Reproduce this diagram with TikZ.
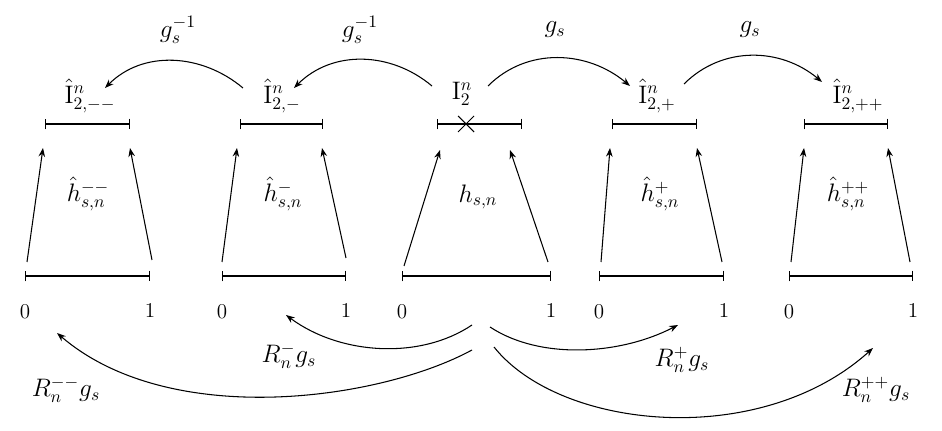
\documentclass[tikz,border=0pt]{standalone}
\usepackage{tikz}
\usetikzlibrary{arrows.meta, positioning, calc}

\begin{document}
\begin{tikzpicture}[x=0.02cm, y=-0.02cm,
        lbl/.style={inner sep=0pt, font=\Large},
        num/.style={inner sep=0pt, font=\large},
        seg/.style={line width=0.6pt, {Bar[width=6pt]}-{Bar[width=6pt]}},
        arr/.style={-{Stealth[length=5pt]}, line width=0.6pt}
    ]
        \useasboundingbox (0,0) rectangle (942,431);
        % top labels
        \node[lbl] (imm) at (90,96) {$\hat{\mathrm{I}}^n_{2,--}$};
        \node[lbl] (im) at (282,96) {$\hat{\mathrm{I}}^n_{2,-}$};
        \node[lbl] (i) at (462,94) {$\mathrm{I}^n_{2}$};
        \node[lbl] (ip) at (657,96) {$\hat{\mathrm{I}}^n_{2,+}$};
        \node[lbl] (ipp) at (858,96) {$\hat{\mathrm{I}}^n_{2,++}$};
        % top arcs
        \draw[arr] (243,88) coordinate (a1) to[out=140, in=45] (105,88) coordinate (b1);
        \draw[arr] (432,86) coordinate (a2) to[out=140, in=45] (294,88) coordinate (b2);
        \draw[arr] (488,86) coordinate (a3) to[out=45, in=140] (630,86) coordinate (b3);
        \draw[arr] (684,84) coordinate (a4) to[out=45, in=140] (822,82) coordinate (b4);
        \node[lbl] (g1) at (178,30) {$g_s^{-1}$};
        \node[lbl] (g2) at (360,30) {$g_s^{-1}$};
        \node[lbl] (g3) at (555,30) {$g_s$};
        \node[lbl] (g4) at (750,30) {$g_s$};
        % small intervals
        \foreach \n/\l/\r in {1/45/130, 2/240/323, 3/437/522, 4/612/697, 5/804/888} {
            \coordinate (tl\n) at (\l,124);
            \coordinate (tr\n) at (\r,124);
            \draw[seg] (tl\n) -- (tr\n);
        }
        \draw[line width=0.6pt] (458,116) -- (474,132) (458,132) -- (474,116);
        % unit intervals
        \foreach \n/\l/\r in {1/25/150, 2/222/346, 3/402/551, 4/599/724, 5/789/913} {
            \coordinate (bl\n) at (\l,276);
            \coordinate (br\n) at (\r,276);
            \draw[seg] (bl\n) -- (br\n);
            \node[num] (z\n) at (\l,312) {0};
            \node[num] (o\n) at (\r,310) {1};
        }
        % upward arrows
        \draw[arr] (27,262) -- (43,148);
        \draw[arr] (152,260) -- (130,148);
        \draw[arr] (222,262) -- (237,148);
        \draw[arr] (346,258) -- (322,148);
        \draw[arr] (404,266) -- (440,150);
        \draw[arr] (548,262) -- (510,150);
        \draw[arr] (601,262) -- (610,148);
        \draw[arr] (722,262) -- (697,148);
        \draw[arr] (791,262) -- (804,148);
        \draw[arr] (910,262) -- (888,148);
        % maps
        \node[lbl] (h1) at (88,194) {$\hat{h}^{--}_{s,n}$};
        \node[lbl] (h2) at (283,194) {$\hat{h}^{-}_{s,n}$};
        \node[lbl] (h3) at (478,197) {$h_{s,n}$};
        \node[lbl] (h4) at (660,194) {$\hat{h}^{+}_{s,n}$};
        \node[lbl] (h5) at (848,194) {$\hat{h}^{++}_{s,n}$};
        % bottom arcs
        \coordinate (s1) at (472,325);
        \coordinate (s2) at (472,350);
        \coordinate (s3) at (490,327);
        \coordinate (s4) at (494,347);
        \draw[arr] (s1) .. controls (420,360) and (340,355) .. (286,315);
        \draw[arr] (s2) .. controls (380,400) and (170,430) .. (57,333);
        \draw[arr] (s3) .. controls (540,360) and (620,355) .. (678,325);
        \draw[arr] (s4) .. controls (560,430) and (760,450) .. (873,348);
        \node[lbl] (r1) at (289,356) {$R_n^{-}g_s$};
        \node[lbl] (r2) at (66,390) {$R_n^{--}g_s$};
        \node[lbl] (r3) at (682,360) {$R_n^{+}g_s$};
        \node[lbl] (r4) at (876,390) {$R_n^{++}g_s$};
\end{tikzpicture}
\end{document}
